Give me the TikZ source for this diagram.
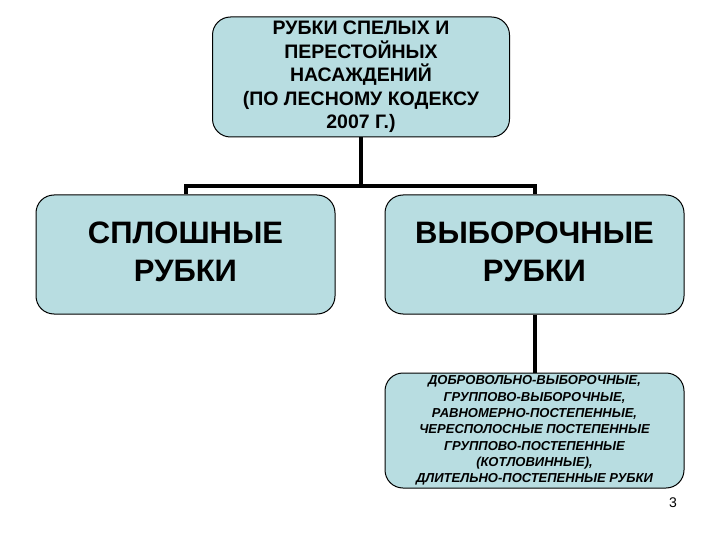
\documentclass[tikz,border=0pt]{standalone}
\usepackage{fontspec}
\setmainfont{Liberation Sans}
\definecolor{boxfill}{RGB}{184,221,225}
\tikzset{
  box/.style={draw=black, line width=1pt, fill=boxfill, rounded corners=18pt,
    rectangle, align=center, inner sep=0pt, minimum width=299pt},
  conn/.style={draw=black, line width=4pt}
}
\begin{document}
\begin{tikzpicture}[x=1pt,y=-1pt]
\useasboundingbox[fill=white] (0,0) rectangle (720,540);
\node[box, minimum width=297pt, minimum height=120pt,
  font=\bfseries\fontsize{19.5}{23.5}\selectfont] (top) at (361,77)
  {РУБКИ СПЕЛЫХ И\\ПЕРЕСТОЙНЫХ\\НАСАЖДЕНИЙ\\(ПО ЛЕСНОМУ КОДЕКСУ\\2007 Г.)};
\node[box, minimum height=119pt,
  font=\bfseries\fontsize{31}{38}\selectfont] (left) at (185.5,254.5)
  {\raisebox{-3pt}{\begin{tabular}{@{}c@{}}СПЛОШНЫЕ\\[0pt]РУБКИ\end{tabular}}};
\node[box, minimum height=119pt,
  font=\bfseries\fontsize{31}{38}\selectfont] (right) at (534.5,254.5)
  {\raisebox{-3pt}{\begin{tabular}{@{}c@{}}ВЫБОРОЧНЫЕ\\[0pt]РУБКИ\end{tabular}}};
\node[box, minimum height=115pt,
  font=\bfseries\itshape\fontsize{13}{16.3}\selectfont] (bottom) at (534.5,430.5)
  {ДОБРОВОЛЬНО-ВЫБОРОЧНЫЕ,\\ГРУППОВО-ВЫБОРОЧНЫЕ,\\РАВНОМЕРНО-ПОСТЕПЕННЫЕ,\\ЧЕРЕСПОЛОСНЫЕ ПОСТЕПЕННЫЕ\\ГРУППОВО-ПОСТЕПЕННЫЕ\\(КОТЛОВИННЫЕ),\\ДЛИТЕЛЬНО-ПОСТЕПЕННЫЕ РУБКИ};
\coordinate (bus) at (361,186);
\draw[conn] (top.south) -- (bus);
\draw[conn] (left.north) |- (bus) -| (right.north);
\draw[conn] (right.south) -- (bottom.north);
\node[font=\fontsize{14}{16}\selectfont] (pg) at (673,503) {3};
\end{tikzpicture}
\end{document}
